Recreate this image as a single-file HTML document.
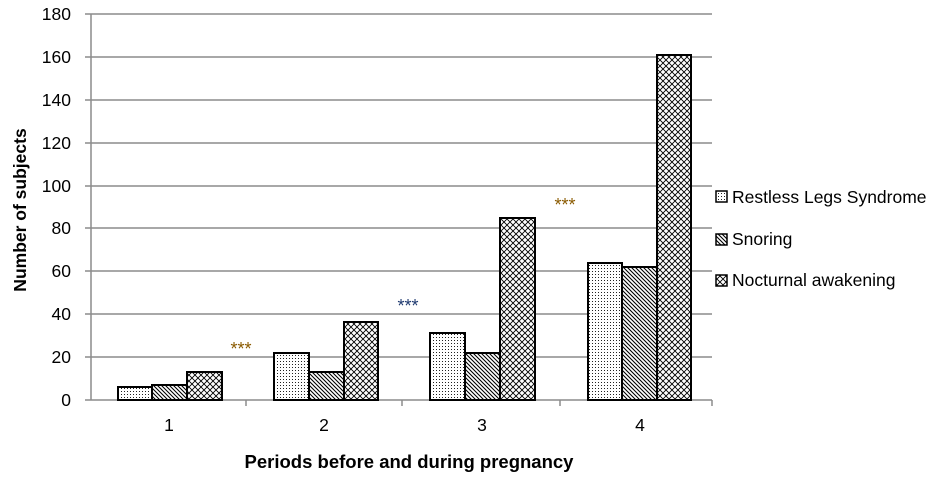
<!DOCTYPE html>
<html><head><style>body{margin:0;background:#fff}svg{font-family:"Liberation Sans",sans-serif}</style></head><body>
<svg width="944" height="474" viewBox="0 0 944 474">
<defs>
<pattern id="dots" width="3" height="3" patternUnits="userSpaceOnUse"><rect width="3" height="3" fill="#fff"/><rect x="1" y="1" width="1" height="1" fill="#222"/></pattern>
<pattern id="diag" width="4" height="4" patternUnits="userSpaceOnUse"><rect width="4" height="4" fill="#fff"/><path d="M-1,-1 L5,5 M-1,3 L1,5 M3,-1 L5,1" stroke="#000" stroke-width="1.1"/></pattern>
<pattern id="cross" width="6" height="6" patternUnits="userSpaceOnUse"><rect width="6" height="6" fill="#fff"/><path d="M0,0 L6,6 M6,0 L0,6" stroke="#000" stroke-width="0.9"/></pattern>
</defs>
<g stroke="#8c8c8c" stroke-width="1.5">
<line x1="85" y1="14" x2="712" y2="14"/><line x1="85" y1="57" x2="712" y2="57"/><line x1="85" y1="100" x2="712" y2="100"/><line x1="85" y1="143" x2="712" y2="143"/><line x1="85" y1="186" x2="712" y2="186"/><line x1="85" y1="228" x2="712" y2="228"/><line x1="85" y1="271" x2="712" y2="271"/><line x1="85" y1="314" x2="712" y2="314"/><line x1="85" y1="357" x2="712" y2="357"/>
<line x1="91" y1="14" x2="91" y2="400"/><line x1="85" y1="400" x2="712" y2="400"/>
<line x1="246" y1="400" x2="246" y2="406"/><line x1="402" y1="400" x2="402" y2="406"/><line x1="560" y1="400" x2="560" y2="406"/><line x1="712" y1="400" x2="712" y2="406"/>
</g>
<g font-size="17.5" text-anchor="end" fill="#000">
<text x="71" y="20">180</text><text x="71" y="63">160</text><text x="71" y="106">140</text><text x="71" y="149">120</text><text x="71" y="192">100</text><text x="71" y="234">80</text><text x="71" y="277">60</text><text x="71" y="320">40</text><text x="71" y="363">20</text><text x="71" y="406">0</text>
</g>
<g stroke="#000" stroke-width="2">
<rect x="118" y="387" width="34" height="13" fill="url(#dots)"/><rect x="152" y="385" width="35" height="15" fill="url(#diag)"/><rect x="187" y="372" width="35" height="28" fill="url(#cross)"/>
<rect x="274" y="353" width="35" height="47" fill="url(#dots)"/><rect x="309" y="372" width="35" height="28" fill="url(#diag)"/><rect x="344" y="322" width="34" height="78" fill="url(#cross)"/>
<rect x="430" y="333" width="35" height="67" fill="url(#dots)"/><rect x="465" y="353" width="35" height="47" fill="url(#diag)"/><rect x="500" y="218" width="35" height="182" fill="url(#cross)"/>
<rect x="588" y="263" width="34" height="137" fill="url(#dots)"/><rect x="622" y="267" width="35" height="133" fill="url(#diag)"/><rect x="657" y="55" width="34" height="345" fill="url(#cross)"/>
</g>
<g font-size="17.5" text-anchor="middle">
<text x="169" y="431">1</text><text x="324" y="431">2</text><text x="482" y="431">3</text><text x="640" y="431">4</text>
</g>
<g font-size="18" text-anchor="middle">
<text x="241" y="355" fill="#8a5a00">***</text><text x="408" y="312" fill="#1f3a70">***</text><text x="565" y="211" fill="#8a5a00">***</text>
</g>
<text x="409" y="468" font-size="18.5" font-weight="bold" text-anchor="middle">Periods before and during pregnancy</text>
<text transform="translate(26,210) rotate(-90)" font-size="17.5" font-weight="bold" text-anchor="middle">Number of subjects</text>
<g stroke="#000" stroke-width="1.5">
<rect x="716" y="191" width="11" height="11" fill="url(#dots)"/><rect x="716" y="234" width="11" height="11" fill="url(#diag)"/><rect x="716" y="275" width="11" height="11" fill="url(#cross)"/>
</g>
<g font-size="17.5">
<text x="732" y="203">Restless Legs Syndrome</text><text x="732" y="245">Snoring</text><text x="732" y="286">Nocturnal awakening</text>
</g>
</svg>
</body></html>
